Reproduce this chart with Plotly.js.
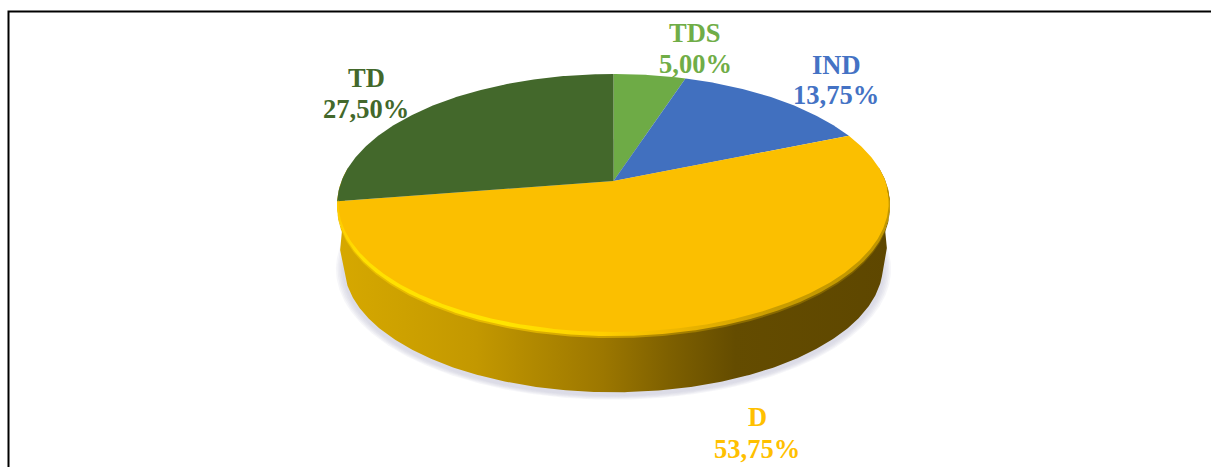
<!DOCTYPE html>
<html>
<head>
<meta charset="utf-8">
<script src="https://cdn.plot.ly/plotly-3.0.1.min.js"></script>
<style>html,body{margin:0;padding:0;background:#fff;overflow:hidden}</style>
</head>
<body>
<div id="chart" style="width:1211px;height:467px"></div>
<script>
const categories = ['TDS', 'IND', 'D', 'TD'];
const shares = [5.00, 13.75, 53.75, 27.50];
const sliceColors = ['#6EAB46', '#4170BF', '#FBBF00', '#43682B'];
const labelColors = ['#70AD47', '#4472C4', '#FFC000', '#43682B'];
const labelX = [695, 836, 757, 366];
const nameY = [33, 65, 417, 78];
const valueY = [64, 95, 449, 109];

// Perspective projection of the tilted pie disc onto the page
const cx = 613.5, apexY = 181, R = 272, S = 126, k = 0.177;
const depth = 62, baseScale = 0.975;
function proj(deg, scale, dy) {
  const t = deg * Math.PI / 180, X = Math.sin(t), Y = Math.cos(t), d = 1 + k * Y;
  return [cx + scale * R * X / d, apexY + dy - scale * S * Y / d];
}
function arc(from, to, scale, dy) {
  const n = Math.max(2, Math.ceil(Math.abs(to - from) * 2)), xs = [], ys = [];
  for (let i = 0; i <= n; i++) {
    const p = proj(from + (to - from) * i / n, scale, dy);
    xs.push(p[0]); ys.push(p[1]);
  }
  return [xs, ys];
}
const base = {type: 'scatter', mode: 'lines', hoverinfo: 'skip', showlegend: false, line: {width: 0}};
const traces = [];

// soft shadow beneath the disc
[1.03, 1.024, 1.018, 1.012, 1.006].forEach(s => {
  const a = arc(0, 360, baseScale * s, depth + 3);
  traces.push({...base, x: a[0], y: a[1], fill: 'toself', fillcolor: 'rgba(190,190,210,0.14)'});
});

// side wall, flaring slightly where it leaves the disc at both sides
const wallTop = arc(84, 276, 1, 0), wallBot = arc(255, 105, baseScale, depth);
const flareL = proj(270, 1.005, depth + 7), flareR = proj(90, 1.005, depth + 5);
traces.push({...base,
  x: wallTop[0].concat([flareL[0]], wallBot[0], [flareR[0]]),
  y: wallTop[1].concat([flareL[1]], wallBot[1], [flareR[1]]),
  fill: 'toself', fillcolor: '#A07A00',
  fillgradient: {type: 'horizontal', start: 338, stop: 890, colorscale: [
    [0, '#D6A800'], [0.12, '#CDA100'], [0.25, '#C39800'], [0.36, '#B08800'],
    [0.48, '#9C7700'], [0.6, '#7E6000'], [0.72, '#644C00'], [1, '#5E4700']]}});

// top faces of the slices
let start = 0;
const total = shares.reduce((a, b) => a + b, 0);
shares.forEach((v, i) => {
  const end = start + v / total * 360, a = arc(start, end, 1, 0);
  traces.push({...base, name: categories[i], x: [cx].concat(a[0], [cx]), y: [apexY].concat(a[1], [apexY]),
    fill: 'toself', fillcolor: sliceColors[i]});
  start = end;
});

// bevel along the front rim of the disc: a soft lower band, then the highlight
const dStart = (shares[0] + shares[1]) / total * 360, dEnd = dStart + shares[2] / total * 360;
function band(dyOut, dyIn, scaleIn, stops) {
  const o = arc(dStart + 25, dEnd, 1, dyOut), n = arc(dEnd, dStart + 25, scaleIn, dyIn);
  return {...base, x: o[0].concat(n[0]), y: o[1].concat(n[1]), fill: 'toself', fillcolor: '#E0B000',
    fillgradient: {type: 'horizontal', start: 338, stop: 890, colorscale: stops}};
}
traces.push(band(4, 1, 1, [[0, '#E8BC00'], [0.3, '#E6B800'], [0.5, '#C89C00'], [0.7, '#8E6E00'], [1, '#7A5E00']]));
traces.push(band(2, -1.5, 0.996, [[0, '#FFCC00'], [0.04, '#FFE000'], [0.3, '#FFE400'], [0.48, '#FFCE00'],
  [0.6, '#F0B800'], [0.8, '#C89C00'], [1, '#C09600']]));

const serif = '"Liberation Serif","Times New Roman",serif';
const annotations = [];
categories.forEach((c, i) => {
  const font = {family: serif, size: 26.5, color: labelColors[i]};
  annotations.push({xref: 'x', yref: 'y', x: labelX[i], y: nameY[i], showarrow: false, text: '<b>' + c + '</b>', font});
  annotations.push({xref: 'x', yref: 'y', x: labelX[i], y: valueY[i], showarrow: false,
    text: '<b>' + shares[i].toFixed(2).replace('.', ',') + '%</b>', font});
});

Plotly.newPlot('chart', traces, {
  width: 1211, height: 467, margin: {l: 0, r: 0, t: 0, b: 0},
  paper_bgcolor: '#fff', plot_bgcolor: '#fff', showlegend: false,
  xaxis: {range: [0, 1211], visible: false, fixedrange: true},
  yaxis: {range: [467, 0], visible: false, fixedrange: true},
  annotations,
  shapes: [{type: 'path', xref: 'x', yref: 'y', path: 'M8.5,467 L8.5,11.5 L1211,11.5', line: {color: '#000', width: 2}}]
}, {displayModeBar: false, staticPlot: true});
</script>
</body>
</html>
